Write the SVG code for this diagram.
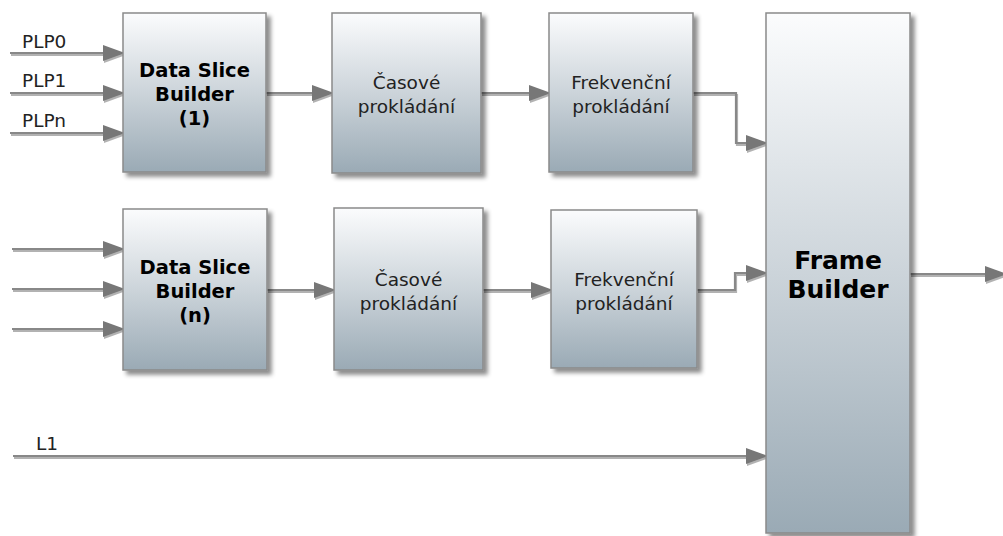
<svg xmlns="http://www.w3.org/2000/svg" width="1003" height="536" viewBox="0 0 1003 536">
<defs>
<linearGradient id="g" x1="0" y1="0" x2="0" y2="1">
<stop offset="0" stop-color="#fbfcfd"/>
<stop offset="0.5" stop-color="#ccd4da"/>
<stop offset="1" stop-color="#9aaab5"/>
</linearGradient>
<filter id="sh" x="-10%" y="-10%" width="130%" height="130%">
<feDropShadow dx="4" dy="4" stdDeviation="2" flood-color="#000" flood-opacity="0.45"/>
</filter>
<filter id="lsh" x="-5%" y="-50%" width="110%" height="200%" filterUnits="userSpaceOnUse">
<feDropShadow dx="1" dy="2" stdDeviation="0.6" flood-color="#666" flood-opacity="0.5"/>
</filter>
<marker id="ah" markerUnits="userSpaceOnUse" markerWidth="24" markerHeight="18" refX="20" refY="8" orient="auto">
<path d="M0,0 L22,8 L0,16 z" fill="#777"/>
</marker>
<style>
.box{fill:url(#g);stroke:#8a8a8a;stroke-width:1.5;filter:url(#sh)}
.c{fill:none;stroke:#888;stroke-width:2.2;marker-end:url(#ah)}
.bt{font-family:"DejaVu Sans",Verdana,sans-serif;font-weight:bold;font-size:19.5px;fill:#000;text-anchor:middle}
.ft{font-family:"DejaVu Sans",Verdana,sans-serif;font-weight:bold;font-size:25px;fill:#000;text-anchor:middle}
.rt{font-family:"DejaVu Sans",Verdana,sans-serif;font-size:18.5px;fill:#222;text-anchor:middle}
.lt{font-family:"DejaVu Sans",Verdana,sans-serif;font-size:18.5px;fill:#222}
</style>
</defs>
<rect width="1003" height="536" fill="#fff"/>

<g id="connectors" filter="url(#lsh)">
<path class="c" d="M10,53 H123"/>
<path class="c" d="M10,93 H123"/>
<path class="c" d="M10,133 H123"/>
<path class="c" d="M12,249 H123"/>
<path class="c" d="M12,289 H123"/>
<path class="c" d="M12,329 H123"/>
<path class="c" d="M266,93 H332"/>
<path class="c" d="M481,93 H549"/>
<path class="c" d="M267,290 H334"/>
<path class="c" d="M483,290 H551"/>
<path class="c" d="M693,93 H736 V143 H766"/>
<path class="c" d="M697,290 H735 V273 H766"/>
<path class="c" d="M13,456 H766"/>
<path class="c" d="M910,274 H1005"/>
</g>

<g id="labels">
<text class="lt" x="22" y="48">PLP0</text>
<text class="lt" x="22" y="87">PLP1</text>
<text class="lt" x="22" y="127">PLPn</text>
<text class="lt" x="36" y="450">L1</text>
</g>

<g id="dsb1">
<rect class="box" x="123" y="13" width="143" height="159"/>
<text class="bt" x="194.5" y="77">Data Slice</text>
<text class="bt" x="194.5" y="101">Builder</text>
<text class="bt" x="194.5" y="125">(1)</text>
</g>
<g id="time1">
<rect class="box" x="332" y="13" width="149" height="160"/>
<text class="rt" x="406.5" y="89">Časové</text>
<text class="rt" x="406.5" y="113">prokládání</text>
</g>
<g id="freq1">
<rect class="box" x="549" y="13" width="144" height="159"/>
<text class="rt" x="621" y="89">Frekvenční</text>
<text class="rt" x="621" y="113">prokládání</text>
</g>
<g id="dsbn">
<rect class="box" x="123" y="209" width="144" height="161"/>
<text class="bt" x="195" y="274">Data Slice</text>
<text class="bt" x="195" y="298">Builder</text>
<text class="bt" x="195" y="322">(n)</text>
</g>
<g id="time2">
<rect class="box" x="334" y="208" width="149" height="162"/>
<text class="rt" x="408.5" y="286">Časové</text>
<text class="rt" x="408.5" y="310">prokládání</text>
</g>
<g id="freq2">
<rect class="box" x="551" y="210" width="146" height="158"/>
<text class="rt" x="624" y="286">Frekvenční</text>
<text class="rt" x="624" y="310">prokládání</text>
</g>
<g id="frame">
<rect class="box" x="766" y="13" width="144" height="520"/>
<text class="ft" x="838" y="269">Frame</text>
<text class="ft" x="838" y="298">Builder</text>
</g>
</svg>
